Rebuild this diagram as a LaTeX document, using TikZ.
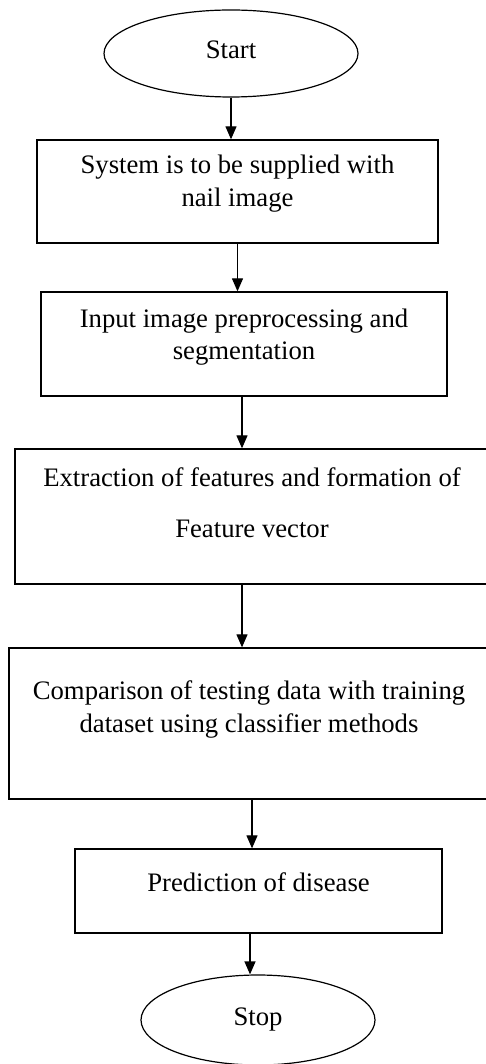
\documentclass[tikz,border=0pt]{standalone}
\usepackage{fontspec}
\setmainfont{Liberation Serif}
\usetikzlibrary{shapes.geometric, arrows.meta, positioning}

\begin{document}
\begin{tikzpicture}[
    x=1pt, y=-1pt,
    % Styles
    startstop/.style={
        ellipse, draw=black, line width=1.2pt,
        inner sep=0pt, text height=18pt, text depth=7pt,
        font=\fontsize{26.7}{32.5}\selectfont
    },
    process/.style={
        rectangle, draw=black, line width=1.3pt,
        inner sep=0pt, align=center,
        font=\fontsize{26.7}{32.5}\selectfont
    },
    arrow/.style={-{Triangle[length=13pt, width=11pt]}, line width=1.2pt}
]
\useasboundingbox (0,0) rectangle (485,1064);

% === NODES (top to bottom) ===
\node (start) [startstop, minimum width=254pt, minimum height=87pt] at (231, 53.5) {Start};
\node (box1) [process, minimum width=401pt, minimum height=103pt, text depth=22pt] at (237.5, 191.5)
    {System is to be supplied with\\nail image};
\node (box2) [process, minimum width=406pt, minimum height=104pt, text depth=20pt] at (244, 344)
    {Input image preprocessing and\\segmentation};
\node (box3) [process, minimum width=474pt, minimum height=135pt, text depth=28pt] at (252, 516.5)
    {Extraction of features and formation of\\[18pt]Feature vector};
\node (box4) [process, minimum width=480pt, minimum height=151pt, text depth=34pt] at (249, 723.5)
    {Comparison of testing data with training\\dataset using classifier methods};
\node (box5) [process, minimum width=367pt, minimum height=84pt, text height=18pt, text depth=18pt] at (258.5, 891)
    {Prediction of disease};
\node (stop) [startstop, minimum width=234pt, minimum height=90pt] at (258, 1020) {Stop};

% === ARROWS ===
\draw [arrow] (start.south) -- (start.south |- box1.north);
\draw [arrow] (box1.south) -- (box1.south |- box2.north);
\draw [arrow] ([xshift=-2pt]box2.south) -- ([xshift=-2pt]box2.south |- box3.north);
\draw [arrow] ([xshift=-10pt]box3.south) -- ([xshift=-10pt]box3.south |- box4.north);
\draw [arrow] ([xshift=3pt]box4.south) -- ([xshift=3pt]box4.south |- box5.north);
\draw [arrow] ([xshift=-8.5pt]box5.south) -- ([xshift=-8.5pt]box5.south |- stop.north);

\end{tikzpicture}
\end{document}
